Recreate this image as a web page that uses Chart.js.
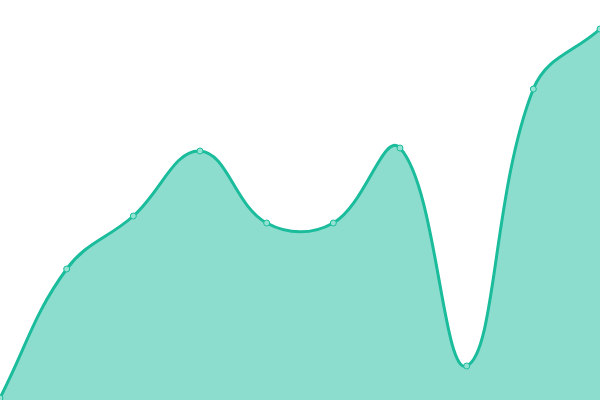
<!DOCTYPE html>
<html>
<head>
<meta charset="utf-8">
<script src="https://cdn.jsdelivr.net/npm/chart.js@4"></script>
<style>
  html, body { margin: 0; padding: 0; background: #fff; }
  #wrap { width: 600px; height: 400px; }
</style>
</head>
<body>
<div id="wrap"><canvas id="grafico"></canvas></div>
<script>
const rotulos = ["1", "2", "3", "4", "5", "6", "7", "8", "9", "10"];
const valores = [2, 131, 184, 249, 177, 177, 252, 34, 311, 371];

const ctx = document.querySelector("#grafico");

new Chart(ctx, {
  type: "line",

  data: {
    labels: rotulos,
    datasets: [
      {
        data: valores,
        borderColor: "#1abc9c",
        backgroundColor: "rgba(26, 188, 156, 0.5)",
        borderWidth: 3,
        fill: true,
        tension: 0.4,
        pointRadius: 3,
        pointBorderWidth: 1,
        pointBackgroundColor: "#93e2d2",
        pointBorderColor: "#1abc9c",
      },
    ],
  },

  options: {
    responsive: true,
    maintainAspectRatio: false,
    animation: false,
    layout: { padding: 0, autoPadding: false },
    plugins: { legend: { display: false }, tooltip: { enabled: false } },
    scales: {
      x: { display: false, offset: false },
      y: { display: false, min: 0, max: 400 },
    },
  },
});
</script>
</body>
</html>
